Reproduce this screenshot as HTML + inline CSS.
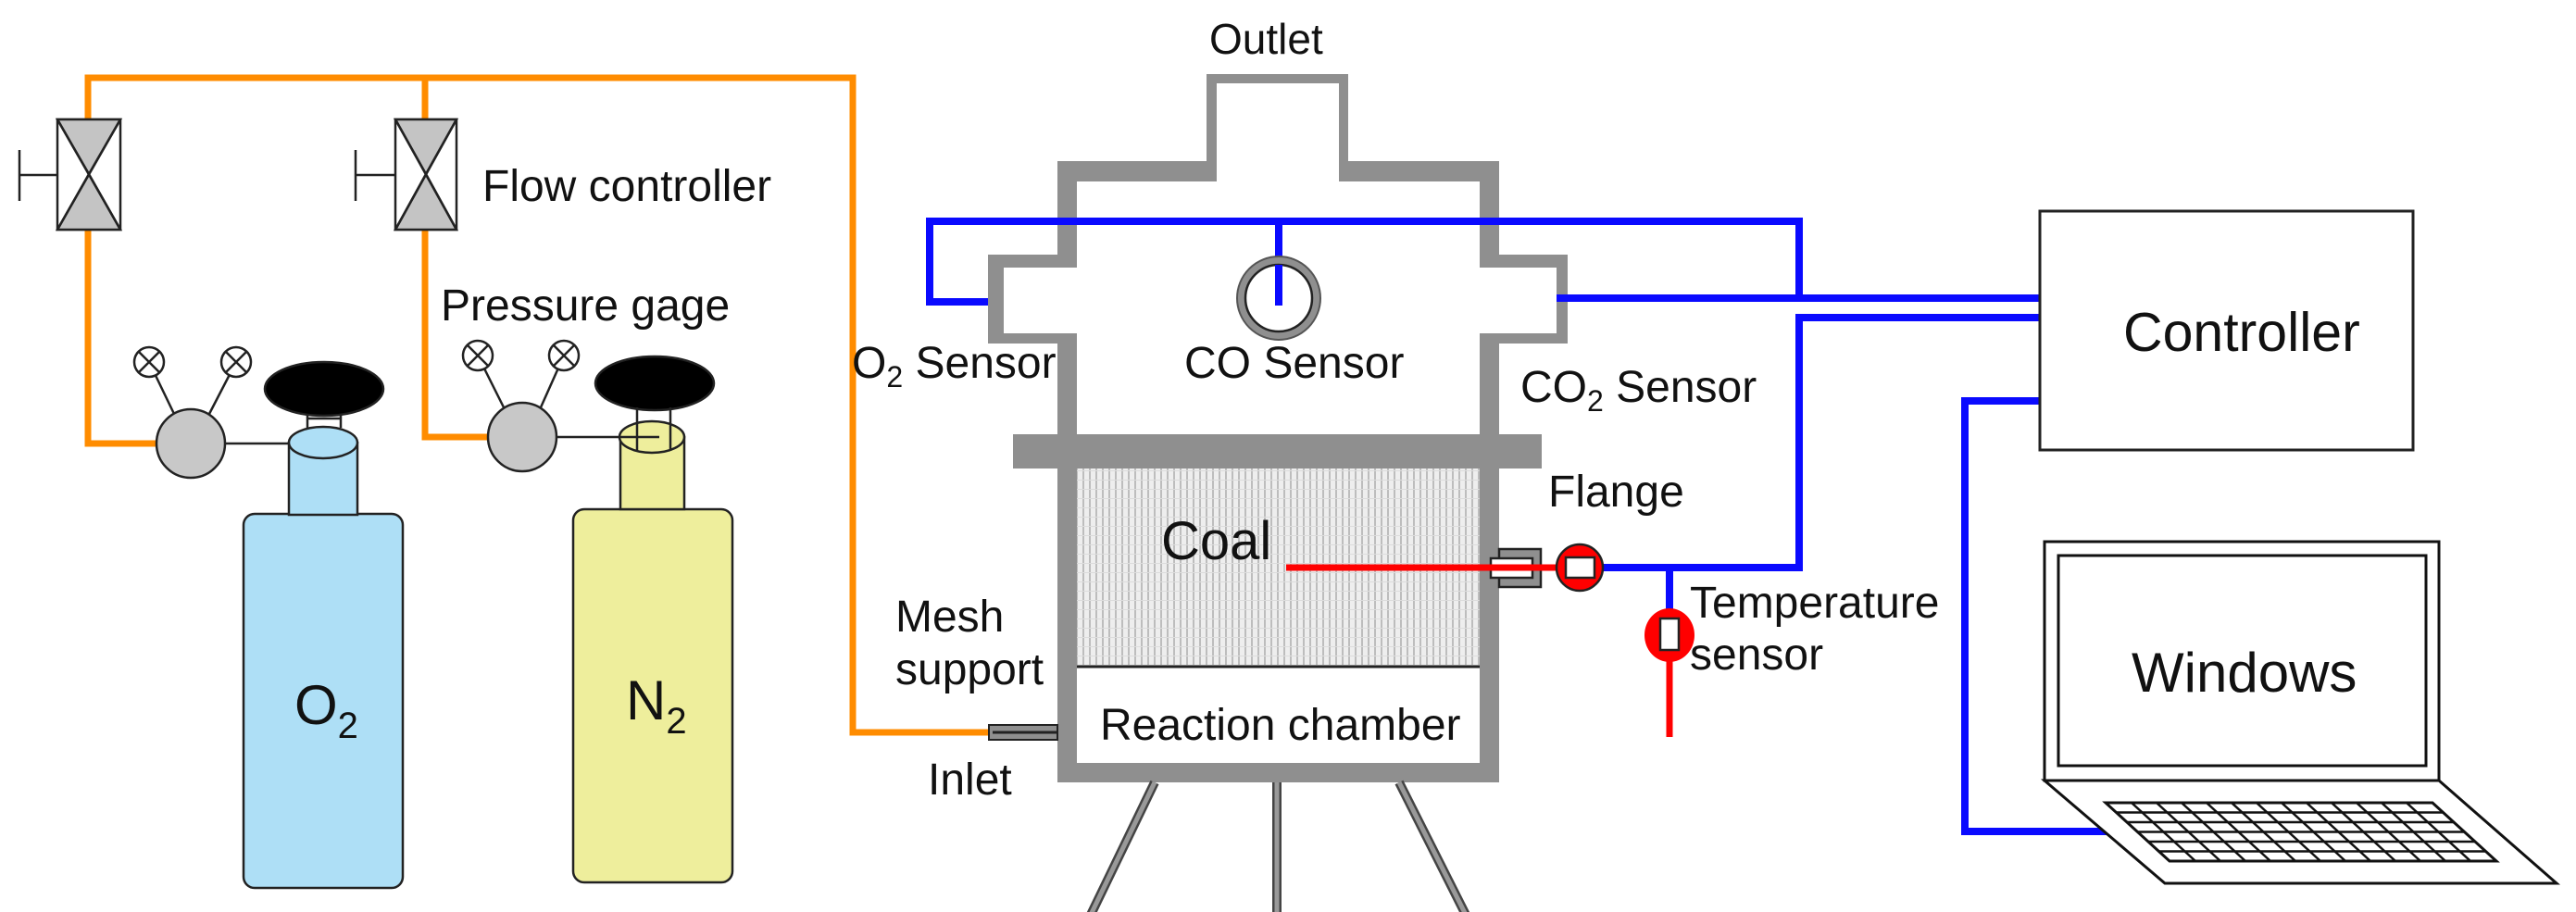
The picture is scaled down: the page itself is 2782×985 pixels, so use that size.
<!DOCTYPE html>
<html><head><meta charset="utf-8"><style>
html,body{margin:0;padding:0;background:#fff;}
svg{display:block;}
text{font-family:"Liberation Sans",Arial,sans-serif;fill:#111;}
</style></head><body>
<svg width="2782" height="985" viewBox="0 0 2782 985" xmlns="http://www.w3.org/2000/svg">
<defs>
<pattern id="mesh" width="7" height="10" patternUnits="userSpaceOnUse">
<rect width="7" height="10" fill="#eeeeee"/>
<rect x="0" width="2" height="10" fill="#bdbdbd"/>
<rect x="0" y="8" width="7" height="1" fill="#dcdcdc"/>
</pattern>
</defs>

<!-- Orange gas lines -->
<g stroke="#ff8c00" stroke-width="7" fill="none">
<polyline points="95,248 95,479 173,479"/>
<polyline points="95,129 95,84 921,84 921,791 1072,791"/>
<polyline points="459,84 459,129"/>
<polyline points="459,248 459,472 527,472"/>
</g>

<!-- Valves -->
<g stroke="#222" stroke-width="2.5">
<rect x="62" y="129" width="68" height="119" fill="#fff"/>
<polygon points="62,129 130,129 96,188" fill="#c4c4c4"/>
<polygon points="62,248 130,248 96,188" fill="#c4c4c4"/>
<line x1="62" y1="129" x2="130" y2="248"/><line x1="130" y1="129" x2="62" y2="248"/>
<line x1="21" y1="189" x2="62" y2="189"/><line x1="21" y1="162" x2="21" y2="217"/>
<rect x="427" y="129" width="66" height="119" fill="#fff"/>
<polygon points="427,129 493,129 460,188" fill="#c4c4c4"/>
<polygon points="427,248 493,248 460,188" fill="#c4c4c4"/>
<line x1="427" y1="129" x2="493" y2="248"/><line x1="493" y1="129" x2="427" y2="248"/>
<line x1="384" y1="189" x2="427" y2="189"/><line x1="384" y1="162" x2="384" y2="217"/>
</g>

<text x="521" y="217" font-size="48">Flow controller</text>
<text x="476" y="346" font-size="48">Pressure gage</text>

<!-- O2 cylinder -->
<g stroke="#222" stroke-width="2.5">
<rect x="263" y="555" width="172" height="404" rx="12" fill="#aedff6"/>
<rect x="312" y="478" width="74" height="78" fill="#aedff6"/>
<ellipse cx="349" cy="478" rx="37" ry="17" fill="#aedff6"/>
<line x1="332" y1="446" x2="332" y2="462"/><line x1="368" y1="446" x2="368" y2="462"/>
<line x1="332" y1="452" x2="368" y2="452"/>
<ellipse cx="350" cy="420" rx="64" ry="29" fill="#000"/>
<line x1="243" y1="479" x2="312" y2="479"/>
<line x1="161" y1="391" x2="188" y2="447"/><line x1="255" y1="391" x2="226" y2="447"/>
<circle cx="206" cy="479" r="37" fill="#c8c8c8"/>
<circle cx="161" cy="391" r="16" fill="#fff"/>
<circle cx="255" cy="391" r="16" fill="#fff"/>
<path d="M150,380 L172,402 M172,380 L150,402 M244,380 L266,402 M266,380 L244,402"/>
</g>
<text x="318" y="782" font-size="60">O<tspan font-size="40" dy="15">2</tspan></text>

<!-- N2 cylinder -->
<g stroke="#222" stroke-width="2.5">
<rect x="619" y="550" width="172" height="403" rx="12" fill="#eeee9c"/>
<rect x="670" y="472" width="69" height="78" fill="#eeee9c"/>
<ellipse cx="704" cy="472" rx="35" ry="17" fill="#eeee9c"/>
<ellipse cx="707" cy="414" rx="64" ry="29" fill="#000"/>
<line x1="688" y1="440" x2="688" y2="487"/><line x1="724" y1="440" x2="724" y2="487"/>
<line x1="601" y1="472" x2="712" y2="472"/>
<line x1="516" y1="384" x2="544" y2="440"/><line x1="609" y1="384" x2="584" y2="440"/>
<circle cx="564" cy="472" r="37" fill="#c8c8c8"/>
<circle cx="516" cy="384" r="16" fill="#fff"/>
<circle cx="609" cy="384" r="16" fill="#fff"/>
<path d="M505,373 L527,395 M527,373 L505,395 M598,373 L620,395 M620,373 L598,395"/>
</g>
<text x="676" y="777" font-size="60">N<tspan font-size="40" dy="15">2</tspan></text>

<!-- Reactor -->
<g fill="#8f8f8f">
<polygon points="1303,80 1456,80 1456,174 1619,174 1619,275 1693,275 1693,371 1619,371 1619,470 1142,470 1142,371 1067,371 1067,275 1142,275 1142,174 1303,174"/>
<rect x="1094" y="469" width="571" height="37"/>
<rect x="1142" y="505" width="477" height="340"/>
</g>
<polygon fill="#fff" points="1314,90 1446,90 1446,196 1598,196 1598,289 1681,289 1681,360 1598,360 1598,469 1163,469 1163,360 1084,360 1084,289 1163,289 1163,196 1314,196"/>
<rect x="1163" y="506" width="435" height="318" fill="#fff"/>
<rect x="1163" y="506" width="435" height="214" fill="url(#mesh)"/>
<line x1="1163" y1="720" x2="1598" y2="720" stroke="#222" stroke-width="3"/>

<!-- legs -->
<g stroke-linecap="butt">
<line x1="1247" y1="845" x2="1177" y2="990" stroke="#444" stroke-width="10"/>
<line x1="1247" y1="845" x2="1177" y2="990" stroke="#999" stroke-width="5"/>
<line x1="1379" y1="845" x2="1379" y2="990" stroke="#444" stroke-width="10"/>
<line x1="1379" y1="845" x2="1379" y2="990" stroke="#999" stroke-width="5"/>
<line x1="1511" y1="845" x2="1584" y2="990" stroke="#444" stroke-width="10"/>
<line x1="1511" y1="845" x2="1584" y2="990" stroke="#999" stroke-width="5"/>
</g>

<!-- inlet tube -->
<rect x="1068" y="783" width="74" height="16" fill="#8f8f8f" stroke="#222" stroke-width="2"/>
<line x1="1072" y1="791" x2="1142" y2="791" stroke="#222" stroke-width="3"/>

<!-- flange tube -->
<rect x="1619" y="593" width="45" height="41" fill="#8f8f8f" stroke="#222" stroke-width="2.5"/>
<rect x="1610" y="603" width="45" height="21" fill="#fff" stroke="#222" stroke-width="2.5"/>

<!-- Blue lines -->
<g stroke="#0a0aff" stroke-width="8" fill="none">
<polyline points="1067,326 1004,326 1004,239 1943,239 1943,322"/>
<line x1="1381" y1="239" x2="1381" y2="300"/>
<line x1="1681" y1="322" x2="2203" y2="322"/>
<polyline points="1725,613 1943,613 1943,343 2203,343"/>
<line x1="1803" y1="613" x2="1803" y2="665"/>
<polyline points="2203,433 2122,433 2122,898 2276,898"/>
</g>

<!-- CO sensor -->
<circle cx="1381" cy="322" r="45" fill="#8f8f8f" stroke="#555" stroke-width="2"/>
<circle cx="1381" cy="322" r="36" fill="#fff" stroke="#222" stroke-width="2.5"/>
<line x1="1381" y1="286" x2="1381" y2="330" stroke="#0a0aff" stroke-width="8"/>

<!-- Red thermocouples -->
<line x1="1389" y1="613" x2="1690" y2="613" stroke="#ff0000" stroke-width="7"/>
<circle cx="1706" cy="613" r="25" fill="#ff0000" stroke="#222" stroke-width="2.5"/>
<rect x="1691" y="602" width="31" height="22" fill="#fff" stroke="#222" stroke-width="2.5"/>
<line x1="1803" y1="700" x2="1803" y2="796" stroke="#ff0000" stroke-width="7"/>
<ellipse cx="1803" cy="686" rx="27" ry="29" fill="#ff0000"/>
<rect x="1793" y="668" width="20" height="34" fill="#fff" stroke="#222" stroke-width="2.5"/>

<!-- Reactor labels -->
<text x="1306" y="58" font-size="46">Outlet</text>
<text x="920" y="408" font-size="48">O<tspan font-size="32" dy="10">2</tspan><tspan dy="-10"> Sensor</tspan></text>
<text x="1279" y="408" font-size="48">CO Sensor</text>
<text x="1642" y="434" font-size="48">CO<tspan font-size="32" dy="10">2</tspan><tspan dy="-10"> Sensor</tspan></text>
<text x="1672" y="547" font-size="48">Flange</text>
<text x="1254" y="604" font-size="58">Coal</text>
<text x="967" y="682" font-size="48">Mesh</text>
<text x="967" y="739" font-size="48">support</text>
<text x="1188" y="799" font-size="48">Reaction chamber</text>
<text x="1002" y="858" font-size="48">Inlet</text>
<text x="1825" y="667" font-size="48">Temperature</text>
<text x="1825" y="723" font-size="48">sensor</text>

<!-- Controller -->
<rect x="2203" y="228" width="403" height="258" fill="none" stroke="#222" stroke-width="3"/>
<text x="2293" y="379" font-size="59">Controller</text>

<!-- Laptop -->
<g stroke="#111" stroke-width="3" fill="#fff">
<rect x="2208" y="585" width="426" height="258"/>
<rect x="2223" y="600" width="397" height="227"/>
<polygon points="2208,843 2634,843 2761,954 2338,954"/>
<polygon points="2274,867 2627,867 2696,930 2343,930" fill="#fff"/>
</g>
<g stroke="#111" stroke-width="2.5">
<line x1="2285" y1="877.5" x2="2638" y2="877.5"/>
<line x1="2297" y1="888" x2="2650" y2="888"/>
<line x1="2308" y1="898.5" x2="2661" y2="898.5"/>
<line x1="2320" y1="909" x2="2673" y2="909"/>
<line x1="2331" y1="919.5" x2="2684" y2="919.5"/>
<line x1="2302" y1="867" x2="2371" y2="930"/><line x1="2329" y1="867" x2="2398" y2="930"/>
<line x1="2356" y1="867" x2="2425" y2="930"/><line x1="2383" y1="867" x2="2452" y2="930"/>
<line x1="2410" y1="867" x2="2479" y2="930"/><line x1="2437" y1="867" x2="2506" y2="930"/>
<line x1="2464" y1="867" x2="2533" y2="930"/><line x1="2491" y1="867" x2="2560" y2="930"/>
<line x1="2518" y1="867" x2="2587" y2="930"/><line x1="2545" y1="867" x2="2614" y2="930"/>
<line x1="2572" y1="867" x2="2641" y2="930"/><line x1="2599" y1="867" x2="2668" y2="930"/>
</g>
<text x="2302" y="747" font-size="60">Windows</text>
</svg>
</body></html>
